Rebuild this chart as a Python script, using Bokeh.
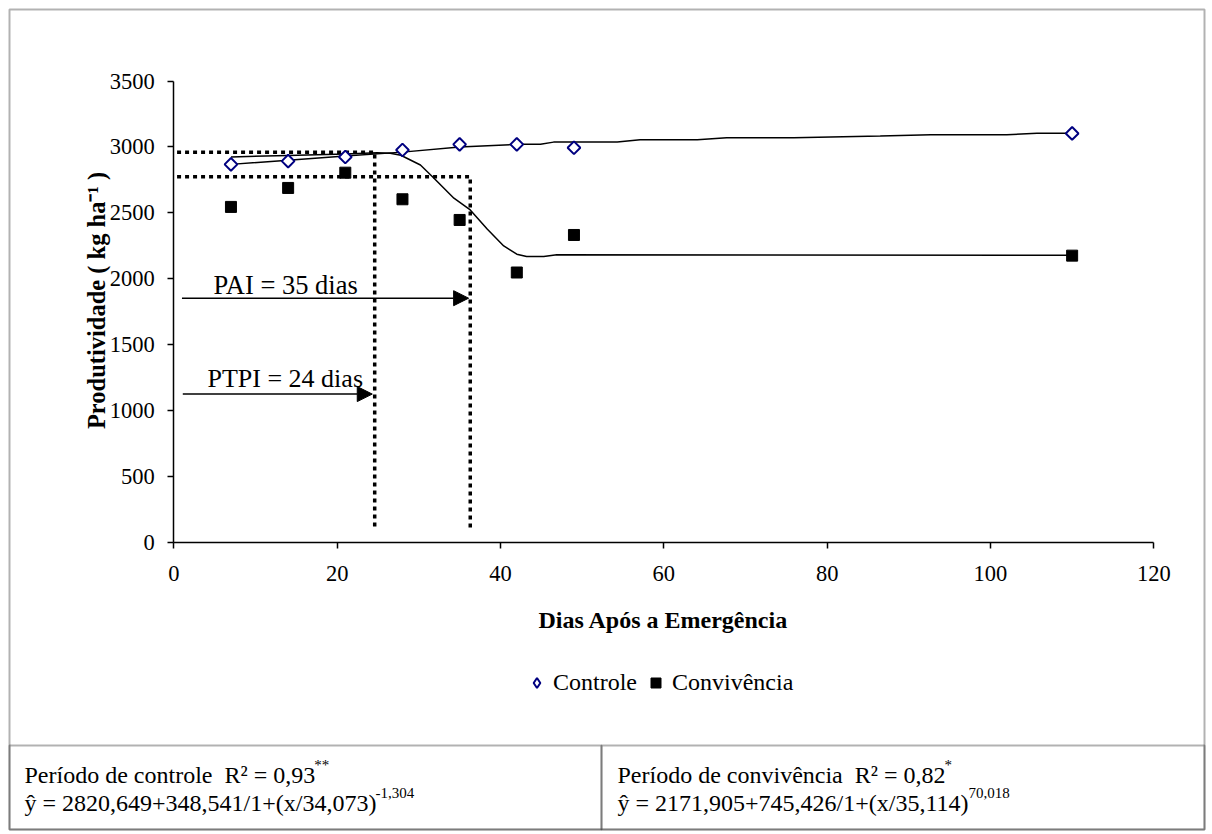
from bokeh.plotting import figure
from bokeh.models import (Range1d, Label, Arrow, NormalHead, BoxAnnotation,
                          Legend, LegendItem, FixedTicker)
from bokeh.embed import file_html
from bokeh.resources import INLINE

# ---------------- data ----------------
dias = [7, 14, 21, 28, 35, 42, 49, 110]
controle = [2867, 2892, 2923, 2976, 3019, 3019, 2993, 3102]
convivencia = [2544, 2688, 2804, 2602, 2445, 2046, 2331, 2174]

# fitted curves as drawn in the picture
curva_controle_x = [7, 14, 21, 28, 35, 42, 44.9, 46.5, 54.3, 57.1, 64.1, 67.7, 75.9, 86.5, 92.7, 102, 105.7, 110]
curva_controle_y = [2867, 2898, 2930, 2960, 2998, 3019, 3019, 3036, 3036, 3054, 3054, 3069, 3069, 3082, 3092, 3092, 3104, 3104]
curva_conviv_x = [7, 14, 21, 24.9, 26.5, 27.8, 30.2, 31.8, 34.3, 36.3, 38.4, 40.4, 42.0, 43.2, 45.3, 46.9, 110]
curva_conviv_y = [2923, 2935, 2945, 2955, 2951, 2936, 2862, 2766, 2610, 2521, 2374, 2248, 2185, 2167, 2167, 2180, 2177]

# critical-period guides
ptpi_x = [0.4, 24.6, 24.6]
ptpi_y = [2960, 2960, 100]
pai_x = [0.4, 36.3, 36.3]
pai_y = [2773, 2773, 100]
pai_arrow = (1.0, 36.1, 1851)      # x start, x end, y
ptpi_arrow = (1.1, 24.3, 1123)

x_ticks = [0, 20, 40, 60, 80, 100, 120]
y_ticks = [0, 500, 1000, 1500, 2000, 2500, 3000, 3500]
X_MIN, X_MAX = 0, 120
Y_MIN, Y_MAX = 0, 3500

# ---------------- layout (page pixels) ----------------
FONT = "Liberation Serif"
WIDTH, HEIGHT = 1210, 832
PX0, PX1 = 173.3, 1153.3     # where x = 0 and x = 120 fall
PY0, PY1 = 541.5, 80.5       # where y = 0 and y = 3500 fall
kx = (PX1 - PX0) / (X_MAX - X_MIN)
ky = (PY0 - PY1) / (Y_MAX - Y_MIN)
x_range = Range1d(X_MIN - PX0 / kx, X_MAX + (WIDTH - PX1) / kx)
y_range = Range1d(Y_MIN - (HEIGHT - PY0) / ky, Y_MAX + PY1 / ky)

p = figure(width=WIDTH, height=HEIGHT, x_range=x_range, y_range=y_range,
           output_backend="svg", toolbar_location=None, min_border=0)
p.extra_x_ranges = {"px": Range1d(0, WIDTH)}
p.extra_y_ranges = {"py": Range1d(HEIGHT, 0)}
p.xgrid.visible = False
p.ygrid.visible = False
p.outline_line_color = None
p.background_fill_color = "white"
p.border_fill_color = "white"

xa, ya = p.xaxis[0], p.yaxis[0]
xa.fixed_location = 0
ya.fixed_location = 0
xa.bounds = (X_MIN, X_MAX)
ya.bounds = (Y_MIN, Y_MAX)
for ax in (xa, ya):
    ax.axis_line_color = "black"
    ax.axis_line_width = 1.5
    ax.major_tick_line_color = "black"
    ax.major_tick_line_width = 1.5
    ax.major_tick_out = 6
    ax.major_tick_in = 0
    ax.minor_tick_line_color = None
    ax.major_label_text_font = FONT
    ax.major_label_text_font_size = "22.5px"
    ax.major_label_text_color = "black"
    ax.axis_label_text_font = FONT
    ax.axis_label_text_font_size = "24px"
    ax.axis_label_text_font_style = "bold"
    ax.axis_label_text_color = "black"

xa.ticker = FixedTicker(ticks=x_ticks)
ya.ticker = FixedTicker(ticks=y_ticks)
xa.axis_label = "Dias Após a Emergência"
xa.major_label_standoff = 18
ya.major_label_standoff = 13
xa.axis_label_standoff = 22

txt = dict(x_range_name="px", y_range_name="py", text_font=FONT, text_color="black",
           text_baseline="alphabetic")

# y axis title (placed as a rotated label to match the reference position)
p.add_layout(Label(x=96, y=300, text="Produtividade ( kg ha\u207b\u00b9 )", angle=1.5708,
                   text_align="center", text_font_size="24.5px", text_font_style="bold", **txt))

# guides
p.line(ptpi_x, ptpi_y, line_color="black", line_width=3.5, line_dash="4 4")
p.line(pai_x, pai_y, line_color="black", line_width=3.5, line_dash="4 4")

# fitted curves
p.line(curva_controle_x, curva_controle_y, line_color="black", line_width=1.5)
p.line(curva_conviv_x, curva_conviv_y, line_color="black", line_width=1.5)

# diamond swatch for the legend (legend glyphs ignore marker angle); drawn tiny,
# underneath the rotated-square markers, so only the legend shows it
r_ctrl_key = p.scatter(dias, controle, marker="diamond", size=0.5, fill_color="white",
                       line_color="#000080", line_width=2)
r_ctrl = p.scatter(dias, controle, marker="square", angle=0.785398, size=9,
                   fill_color="white", line_color="#000080", line_width=2)
r_conv = p.scatter(dias, convivencia, marker="square", size=11,
                   fill_color="black", line_color="black")

# arrows
for (x0, x1, yy) in (pai_arrow, ptpi_arrow):
    p.add_layout(Arrow(x_start=x0, y_start=yy, x_end=x1, y_end=yy, line_width=1.5,
                       end=NormalHead(size=15, fill_color="black", line_color="black")))

p.add_layout(Label(x=213, y=284, text="PAI = 35 dias", text_font_size="26.5px", **txt))
p.add_layout(Label(x=207, y=378, text="PTPI = 24 dias", text_font_size="26px", **txt))

# legend
legend = Legend(items=[LegendItem(label="Controle", renderers=[r_ctrl_key]),
                       LegendItem(label="Convivência", renderers=[r_conv])],
                orientation="horizontal", location=(524, HEIGHT - 696),
                glyph_width=25, glyph_height=25, label_standoff=4, spacing=6,
                padding=0, margin=0, border_line_color=None, background_fill_alpha=0)
legend.label_text_font = FONT
legend.label_text_font_size = "24px"
legend.label_text_color = "black"
p.add_layout(legend, "center")

# outer border and table cells
box_kw = dict(x_range_name="px", y_range_name="py", fill_alpha=0, line_color="black",
              line_width=2)
BL, BR, BT, BB = 9, 1204, 9, 829
TABLE_TOP, TABLE_DIV = 745, 601
p.add_layout(BoxAnnotation(left=BL, right=BR, top=BT, bottom=BB, **box_kw))
p.add_layout(BoxAnnotation(left=BL, right=TABLE_DIV, top=TABLE_TOP, bottom=BB, **box_kw))
p.add_layout(BoxAnnotation(left=TABLE_DIV, right=BR, top=TABLE_TOP, bottom=BB, **box_kw))

TNR = {' ': 250, '\u00a0': 250, 'P': 556, 'e': 444, 'r': 333, 'í': 278, 'o': 500, 'd': 500,
       'c': 444, 'n': 500, 't': 278, 'l': 278, 'R': 667, '²': 300, '=': 564, ',': 250,
       'ŷ': 500, '+': 564, '/': 278, '(': 333, ')': 333, 'x': 500, 'v': 500, 'ê': 444,
       'i': 278, 'a': 444}


def tw(s, fs):
    return sum(TNR.get(ch, 500) for ch in s) * fs / 1000.0


FS = 24
SUP = 15


def cell_text(x0, yb, main, sup):
    p.add_layout(Label(x=x0, y=yb, text=main, text_font_size=f"{FS}px", **txt))
    p.add_layout(Label(x=x0 + tw(main, FS) - 1, y=yb - 10, text=sup,
                       text_font_size=f"{SUP}px", **txt))


cell_text(24, 774, "Período de controle\u00a0 R² = 0,93", "**")
cell_text(24, 802, "ŷ = 2820,649+348,541/1+(x/34,073)", "-1,304")
cell_text(617, 774, "Período de convivência\u00a0 R² = 0,82", "*")
cell_text(617, 802, "ŷ = 2171,905+745,426/1+(x/35,114)", "70,018")

open("out.html", "w").write(file_html(p, INLINE))
